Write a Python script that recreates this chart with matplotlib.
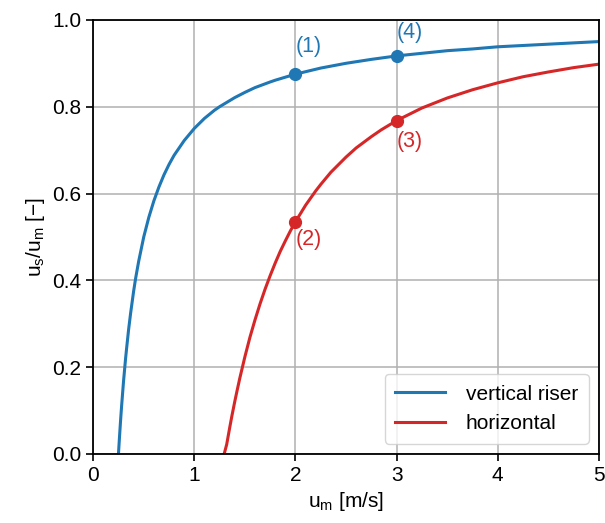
import matplotlib.pyplot as plt

plt.rcParams['font.family'] = ['Liberation Sans', 'DejaVu Sans']
plt.rcParams['mathtext.fontset'] = 'custom'
plt.rcParams['mathtext.rm'] = 'Liberation Sans'

# vertical riser: u_m [m/s] vs u_s/u_m [-]
vert_um = [0.25, 0.26, 0.27, 0.28, 0.3, 0.32, 0.33, 0.35, 0.37, 0.4, 0.42, 0.45,
           0.5, 0.55, 0.6, 0.65, 0.7, 0.75, 0.8, 0.9, 1.0, 1.1, 1.2, 1.25, 1.4,
           1.5, 1.6, 1.75, 1.8, 2.0, 2.25, 2.5, 2.75, 3.0, 3.25, 3.5, 3.75, 4.0,
           4.25, 4.5, 4.75, 5.0]
vert_ratio = [0.0, 0.038, 0.074, 0.107, 0.167, 0.219, 0.242, 0.286, 0.324, 0.375,
              0.405, 0.444, 0.5, 0.545, 0.583, 0.615, 0.643, 0.667, 0.688, 0.722,
              0.75, 0.773, 0.792, 0.8, 0.821, 0.833, 0.844, 0.857, 0.861, 0.875,
              0.889, 0.9, 0.909, 0.917, 0.923, 0.929, 0.933, 0.938, 0.941, 0.944,
              0.947, 0.95]

# horizontal pipe
hor_um = [1.295, 1.32, 1.35, 1.37, 1.4, 1.42, 1.45, 1.5, 1.55, 1.6, 1.65, 1.7,
          1.75, 1.8, 1.85, 1.9, 1.95, 2.0, 2.1, 2.2, 2.25, 2.35, 2.5, 2.6, 2.75,
          2.85, 3.0, 3.25, 3.5, 3.75, 4.0, 4.25, 4.5, 4.75, 5.0]
hor_ratio = [0.0, 0.022, 0.061, 0.086, 0.121, 0.143, 0.175, 0.224, 0.269, 0.309,
             0.346, 0.38, 0.411, 0.44, 0.467, 0.491, 0.514, 0.535, 0.573, 0.606,
             0.621, 0.649, 0.684, 0.705, 0.731, 0.747, 0.768, 0.797, 0.82, 0.839,
             0.855, 0.869, 0.88, 0.89, 0.898]

# marked operating points
pt_labels = ['(1)', '(2)', '(3)', '(4)']
pt_um = [2.0, 2.0, 3.0, 3.0]
pt_ratio = [0.875, 0.535, 0.768, 0.917]
pt_text_y = [0.938, 0.493, 0.719, 0.970]
pt_colors = ['#1f77b4', '#d62728', '#d62728', '#1f77b4']

fig = plt.figure(figsize=(6.05, 5.23), dpi=100)
ax = fig.add_axes([0.154, 0.132, 0.836, 0.830])

ax.plot(vert_um, vert_ratio, color='#1f77b4', lw=2.2, label='vertical riser')
ax.plot(hor_um, hor_ratio, color='#d62728', lw=2.2, label='horizontal')

for lab, x, y, ty, c in zip(pt_labels, pt_um, pt_ratio, pt_text_y, pt_colors):
    ax.plot(x, y, 'o', color=c, ms=8.5)
    ax.text(x, ty, lab, color=c, fontsize=15.5, va='center', ha='left')

ax.set_xlim(0, 5)
ax.set_ylim(0, 1.0)
ax.set_xticks([0, 1, 2, 3, 4, 5])
ax.set_yticks([0.0, 0.2, 0.4, 0.6, 0.8, 1.0])
ax.set_yticklabels(['0.0', '0.2', '0.4', '0.6', '0.8', '1.0'])
ax.grid(True, color='#b0b0b0', lw=1.1)
ax.set_axisbelow(True)
ax.tick_params(labelsize=15, length=5, width=1.2)
for s in ax.spines.values():
    s.set_linewidth(1.3)

ax.set_xlabel(r'u$_\mathregular{m}$ [m/s]', fontsize=15)
ax.set_ylabel(r'u$_\mathregular{s}$/u$_\mathregular{m}$ [$-$]', fontsize=15)

ax.legend(loc='lower right', fontsize=15, handlelength=2.4, handletextpad=1.0,
          borderpad=0.5, framealpha=0.8)

fig.savefig('out.png', dpi=100)
